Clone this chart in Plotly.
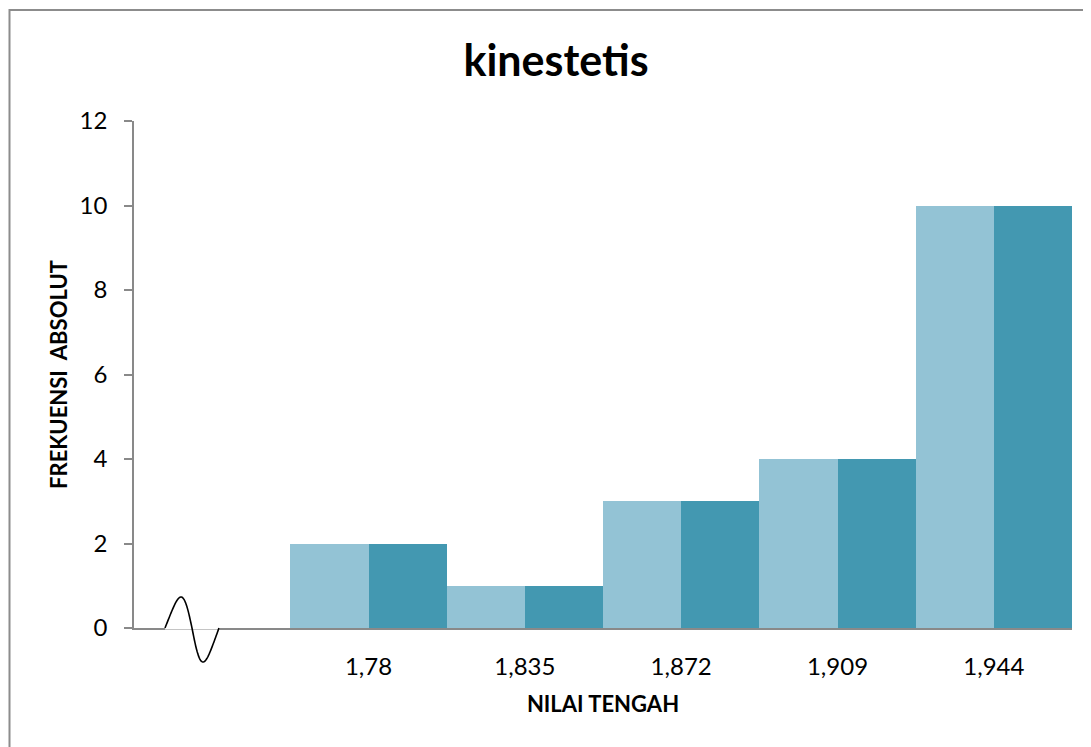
import numpy as np
import plotly.graph_objects as go

categories = ["", "1,78", "1,835", "1,872", "1,909", "1,944"]
series_a = [None, 2, 1, 3, 4, 10]
series_b = [None, 2, 1, 3, 4, 10]
y_ticks = [0, 2, 4, 6, 8, 10, 12]

positions = list(range(len(categories)))

fig = go.Figure()
fig.add_trace(go.Bar(x=positions, y=series_a, marker=dict(color="#93C3D5", line=dict(width=0)),
                     name="Series 1", showlegend=False))
fig.add_trace(go.Bar(x=positions, y=series_b, marker=dict(color="#4398B1", line=dict(width=0)),
                     name="Series 2", showlegend=False))

FONT = "Lato"

# page offset caused by default body margin
OFF = 8
FIG_W, FIG_H = 1091 - OFF, 747 - OFF

# plot area in page pixels
L, R, T, B = 134, 1072, 121, 628
W, H = R - L, B - T

def px(x):
    return (x - L) / W

def py(y):
    return (B - y) / H

# axis-break squiggle (decoration)
t = np.linspace(0, 1, 80)
xs = 165 + 54 * t
warp = t - 0.048 * np.sin(2 * np.pi * t)
s = np.sin(2 * np.pi * warp)
ys = np.where(s >= 0, 31, 34) * s
path = "M " + " L ".join(f"{px(a):.5f},{(b / H):.5f}" for a, b in zip(xs, ys))

shapes = [
    dict(type="line", xref="paper", yref="paper", x0=px(165), x1=px(219.5), y0=0, y1=0,
         line=dict(color="white", width=3), layer="above"),
    dict(type="path", xref="paper", yref="paper", path=path,
         line=dict(color="black", width=1.6), layer="above"),
    dict(type="rect", xref="paper", yref="paper", x0=px(9.5), x1=px(1110), y0=py(10), y1=py(780),
         line=dict(color="#8C8C8C", width=2), fillcolor="rgba(0,0,0,0)", layer="below"),
]

fig.update_layout(
    width=FIG_W, height=FIG_H,
    margin=dict(l=L - OFF, r=FIG_W + OFF - R, t=T - OFF, b=FIG_H + OFF - B),
    paper_bgcolor="white", plot_bgcolor="white",
    barmode="group", bargap=0, bargroupgap=0,
    font=dict(family=FONT, color="black", size=24),
    title=dict(text="<b>kinestetis</b>", x=px(556), xref="paper", xanchor="center",
               y=1 - (61 - OFF) / FIG_H, yanchor="middle", font=dict(family=FONT, size=43, color="black")),
    shapes=shapes,
    xaxis=dict(
        range=[-0.5, len(categories) - 0.5],
        tickmode="array", tickvals=positions, ticktext=categories,
        showline=True, linecolor="#898989", linewidth=2,
        ticks="", showgrid=False, zeroline=False,
        ticklabelstandoff=16,
        tickfont=dict(family=FONT, size=24, color="black"),
        title=dict(text="<b>NILAI TENGAH</b>", font=dict(family=FONT, size=22, color="black"),
                   standoff=18),
    ),
    yaxis=dict(
        range=[0, 12], tickmode="array", tickvals=y_ticks,
        showline=True, linecolor="#898989", linewidth=1.5,
        ticks="outside", ticklen=8, tickcolor="#898989", tickwidth=1.5,
        showgrid=False, zeroline=False,
        ticklabelstandoff=12,
        tickfont=dict(family=FONT, size=24, color="black"),
        title=dict(text="<b>FREKUENSI\u00a0\u00a0ABSOLUT</b>", font=dict(family=FONT, size=22, color="black"),
                   standoff=6),
    ),
)

fig.write_html("out.html")
